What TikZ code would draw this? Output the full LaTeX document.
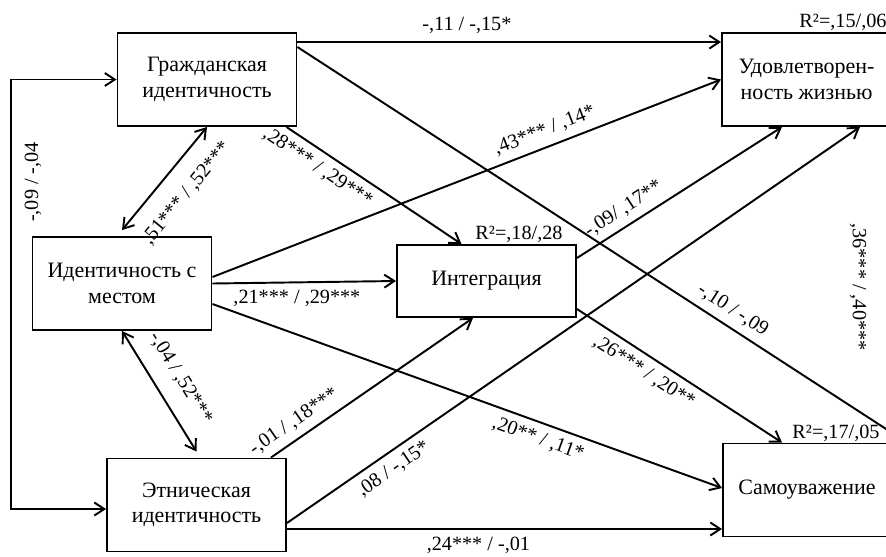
\documentclass[tikz,border=0pt]{standalone}
\usepackage{fontspec}
\setmainfont{Liberation Serif}
\newfontfamily\diagfont{Liberation Serif}
\usetikzlibrary{arrows.meta, positioning}

\begin{document}
\begin{tikzpicture}[
    x=0.02cm, y=-0.02cm,
    box/.style={
        rectangle,
        draw=black,
        line width=1.1pt,
        minimum width=3.58cm,
        minimum height=1.86cm,
        align=center,
        font=\diagfont\fontsize{12.5}{14.5}\selectfont
    },
    arrow/.style={
        -{Straight Barb[length=2mm,width=2.6mm]},
        line width=1.1pt
    },
    biarrow/.style={
        {Straight Barb[length=2mm,width=2.6mm]}-{Straight Barb[length=2mm,width=2.6mm]},
        line width=1.1pt
    },
    coef/.style={
        font=\diagfont\fontsize{11.5}{13}\selectfont,
        inner sep=4pt
    },
    rsq/.style={
        font=\diagfont\fontsize{11.5}{13}\selectfont,
        inner sep=0.5pt,
        anchor=south
    }
]

% Frame
\useasboundingbox (0,0) rectangle (886,556);
\clip (0,0) rectangle (886,556);

% Boxes
\node[box] (civic) at (207,79.5) {Гражданская\\идентичность};
\node[box] (place) at (122,283.5) {Идентичность с\\местом};
\node[box] (ethnic) at (196.5,505) {Этническая\\идентичность};
\node[box, minimum height=1.44cm] (integr) at (486.5,281) {Интеграция};
\node[box, minimum width=3.38cm] (satisf) at (806.5,79.5) {Удовлетворен-\\ность жизнью};
\node[box, minimum width=3.36cm] (selfest) at (807,490) {Самоуважение};

% R2
\node[rsq] (rsatisf) at ([xshift=0.73cm]satisf.north) {R²=,15/,06};
\node[rsq] (rinteg) at ([xshift=0.65cm]integr.north) {R²=,18/,28};
\node[rsq] (rselfest) at ([xshift=0.58cm]selfest.north) {R²=,17/,05};

% Correlations
\draw[biarrow] ([yshift=0.12cm]place.north) -- (civic.south)
    node[coef, sloped, pos=0.52, below=6pt] (lcp) {,51*** / ,52***};
\draw[biarrow] ([yshift=0.12cm]ethnic.north) -- (place.south)
    node[coef, sloped, pos=0.5, above=5pt] (lpe) {-,04 / ,52***};
\draw[biarrow] (civic.west) -| ([xshift=-0.42cm]place.west) |- ([yshift=-0.08cm]ethnic.west);
\node[coef, rotate=90] (lce) at (33,182) {-,09 / -,04};

% Paths
\draw[arrow] ([yshift=-0.2cm]civic.north east) -- ([yshift=-0.2cm]satisf.north west)
    node[coef, pos=0.40, above] (lcs) {-,11 / -,15*};
\draw[arrow] ([yshift=-0.3cm]civic.north east) -- ([xshift=0.3cm]selfest.north east)
    node[coef, sloped, pos=0.70, above] (lcse) {-,10 / -,09};
\draw[arrow] ([xshift=-0.22cm]civic.south east) -- ([xshift=-0.5cm]integr.north)
    node[coef, sloped, pos=0.23, below] (lci) {,28*** / ,29***};

\draw[arrow] ([yshift=0.13cm]place.east) -- (satisf.west)
    node[coef, sloped, pos=0.665, above] (lps) {,43*** / ,14*};
\draw[arrow] (place.east) -- (integr.west)
    node[coef, pos=0.46, below] (lpi) {,21*** / ,29***};
\draw[arrow] ([yshift=-0.41cm]place.east) -- ([yshift=0.04cm]selfest.west)
    node[coef, sloped, pos=0.65, below] (lpse) {,20** / ,11*};

\draw[arrow] ([xshift=-0.32cm]ethnic.north east) -- ([xshift=-0.27cm]integr.south)
    node[coef, sloped, pos=0.16, above] (lei) {-,01 / ,18***};
\draw[arrow] ([yshift=-0.36cm]ethnic.east) -- ([xshift=1.07cm]satisf.south)
    node[coef, sloped, pos=0.17, below] (les) {,08 / -,15*};
\draw[arrow] ([yshift=-0.48cm]ethnic.east) -- ([yshift=-0.48cm]ethnic.east -| selfest.west)
    node[coef, pos=0.44, below] (lese) {,24*** / -,01};

\draw[arrow] ([yshift=0.46cm]integr.east) -- ([xshift=-0.49cm]satisf.south)
    node[coef, sloped, pos=0.27, above] (lis) {-,09/ ,17**};
\draw[arrow] ([yshift=-0.56cm]integr.east) -- ([xshift=-0.5cm]selfest.north)
    node[coef, sloped, pos=0.37, below] (lise) {,26*** / ,20**};

\node[coef, rotate=-90] (lsse) at (858,287) {,36*** / ,40***};

\end{tikzpicture}
\end{document}
